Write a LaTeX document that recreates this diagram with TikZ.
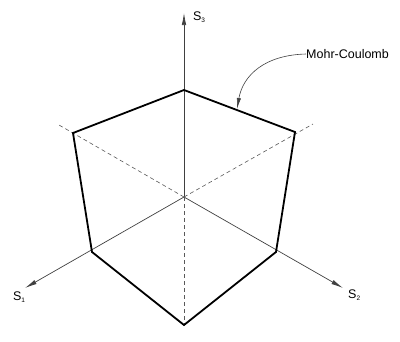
\documentclass[tikz,border=0pt]{standalone}
\usepackage{fontspec}
\setmainfont{Liberation Sans}
\usetikzlibrary{arrows.meta}
\begin{document}
\begin{tikzpicture}[x=1pt,y=-1pt,
  axis/.style={draw=black!75,line width=0.7pt},
  hidden/.style={draw=black!65,line width=0.6pt,dash pattern=on 4pt off 3pt},
  surf/.style={draw=black,line width=1.8pt,line join=miter},
  tip/.style={-{Latex[length=12pt,width=4.5pt]}},
  lbl/.style={font=\fontsize{12.5}{14}\selectfont,inner sep=0pt}]
\useasboundingbox (0,0) rectangle (400,341);
% points
\coordinate (O) at (184,197);
\coordinate (T) at (184,90);
\coordinate (UR) at (295,132);
\coordinate (LR) at (276,252);
\coordinate (B) at (184,325);
\coordinate (LL) at (92,252);
\coordinate (UL) at (73,133);
\coordinate (e3) at (184,13);
\coordinate (e1) at (25,288);
\coordinate (e2) at (343,288);
\coordinate (d1) at (313,124);
\coordinate (d2) at (59,125);
% axes
\draw[axis,tip] (O) -- (e3);
\draw[axis,tip] (O) -- (e1);
\draw[axis,tip] (O) -- (e2);
\draw[hidden] (O) -- (B);
\draw[hidden] (O) -- (d1);
\draw[hidden] (O) -- (d2);
% yield surface
\draw[surf] (T) -- (UR) -- (LR) -- (B) -- (LL) -- (UL) -- cycle;
% labels
\node[lbl] (s3) at (199,17) {S\raisebox{-0.35ex}{\fontsize{6.5}{7}\selectfont 3}};
\node[lbl] (s1) at (19,297) {S\raisebox{-0.35ex}{\fontsize{6.5}{7}\selectfont 1}};
\node[lbl,anchor=west] (s2) at (348,295) {S\raisebox{-0.35ex}{\fontsize{6.5}{7}\selectfont 2}};
\node[lbl,anchor=west] (mc) at (306,54) {Mohr-Coulomb};
\coordinate (hit) at (237,109);
\draw[draw=black!75,line width=0.6pt,-{Latex[length=11pt,width=4.2pt]}] (mc.west) .. controls (265,55) and (243,75) .. (hit);
\end{tikzpicture}
\end{document}
